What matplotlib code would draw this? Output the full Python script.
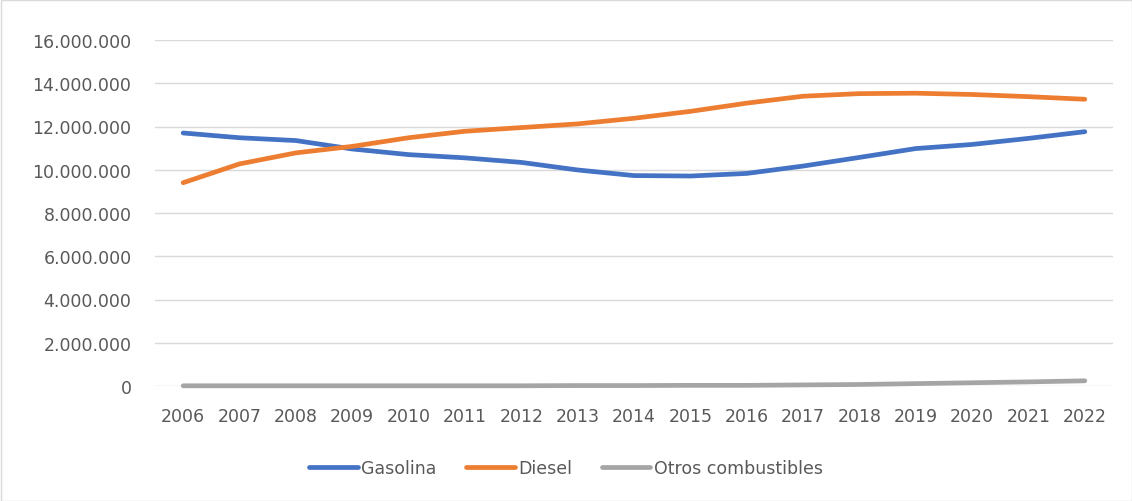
import numpy as np
import matplotlib.pyplot as plt
from matplotlib.ticker import FuncFormatter
from matplotlib.patches import Rectangle

years = ['2006', '2007', '2008', '2009', '2010', '2011', '2012', '2013', '2014',
         '2015', '2016', '2017', '2018', '2019', '2020', '2021', '2022']

gasolina = [11.70, 11.48, 11.35, 10.96, 10.70, 10.55, 10.34, 9.99, 9.73,
            9.71, 9.83, 10.17, 10.57, 10.98, 11.17, 11.45, 11.76]
diesel = [9.40, 10.27, 10.78, 11.08, 11.48, 11.78, 11.95, 12.12, 12.38,
          12.70, 13.08, 13.40, 13.52, 13.54, 13.48, 13.38, 13.26]
otros = [0.01, 0.01, 0.01, 0.01, 0.01, 0.01, 0.01, 0.02, 0.02,
         0.03, 0.03, 0.05, 0.07, 0.11, 0.15, 0.19, 0.24]

gasolina = np.array(gasolina) * 1e6
diesel = np.array(diesel) * 1e6
otros = np.array(otros) * 1e6

text_col = '#595959'
plt.rcParams['font.family'] = 'DejaVu Sans'

fig = plt.figure(figsize=(11.32, 5.02), dpi=100)
ax = fig.add_axes([155/1132, 1-387/502, (1113-155)/1132, (387-41)/502])

x = np.arange(len(years))
ax.plot(x, gasolina, color='#4472C4', lw=3.4, solid_capstyle='round', clip_on=False, label='Gasolina')
ax.plot(x, diesel, color='#ED7D31', lw=3.4, solid_capstyle='round', clip_on=False, label='Diesel')
ax.plot(x, otros, color='#A5A5A5', lw=3.4, solid_capstyle='round', clip_on=False, label='Otros combustibles')

ax.set_xlim(-0.5, len(years) - 0.5)
ax.set_ylim(0, 16e6)
ax.set_yticks(np.arange(0, 16e6 + 1, 2e6))
ax.yaxis.set_major_formatter(FuncFormatter(lambda v, p: f'{int(v):,}'.replace(',', '.')))
ax.set_xticks(x)
ax.set_xticklabels(years)
ax.grid(axis='y', color='#D9D9D9', lw=1)
ax.set_axisbelow(True)
for s in ax.spines.values():
    s.set_visible(False)
ax.tick_params(length=0, labelsize=12.5, colors=text_col)
ax.tick_params(axis='y', pad=17)
ax.tick_params(axis='x', pad=15)

leg = fig.legend(loc='center', bbox_to_anchor=(0.5, 1-469/502), ncol=3, frameon=False,
                 fontsize=12.5, handlelength=2.8, handletextpad=0.2, columnspacing=1.7)
for t in leg.get_texts():
    t.set_color(text_col)

fig.patches.append(Rectangle((0.5/1132, 0.5/502), 1-1/1132, 1-1/502, transform=fig.transFigure,
                             fill=False, edgecolor='#D9D9D9', lw=1))

fig.savefig('out.png', dpi=100)
